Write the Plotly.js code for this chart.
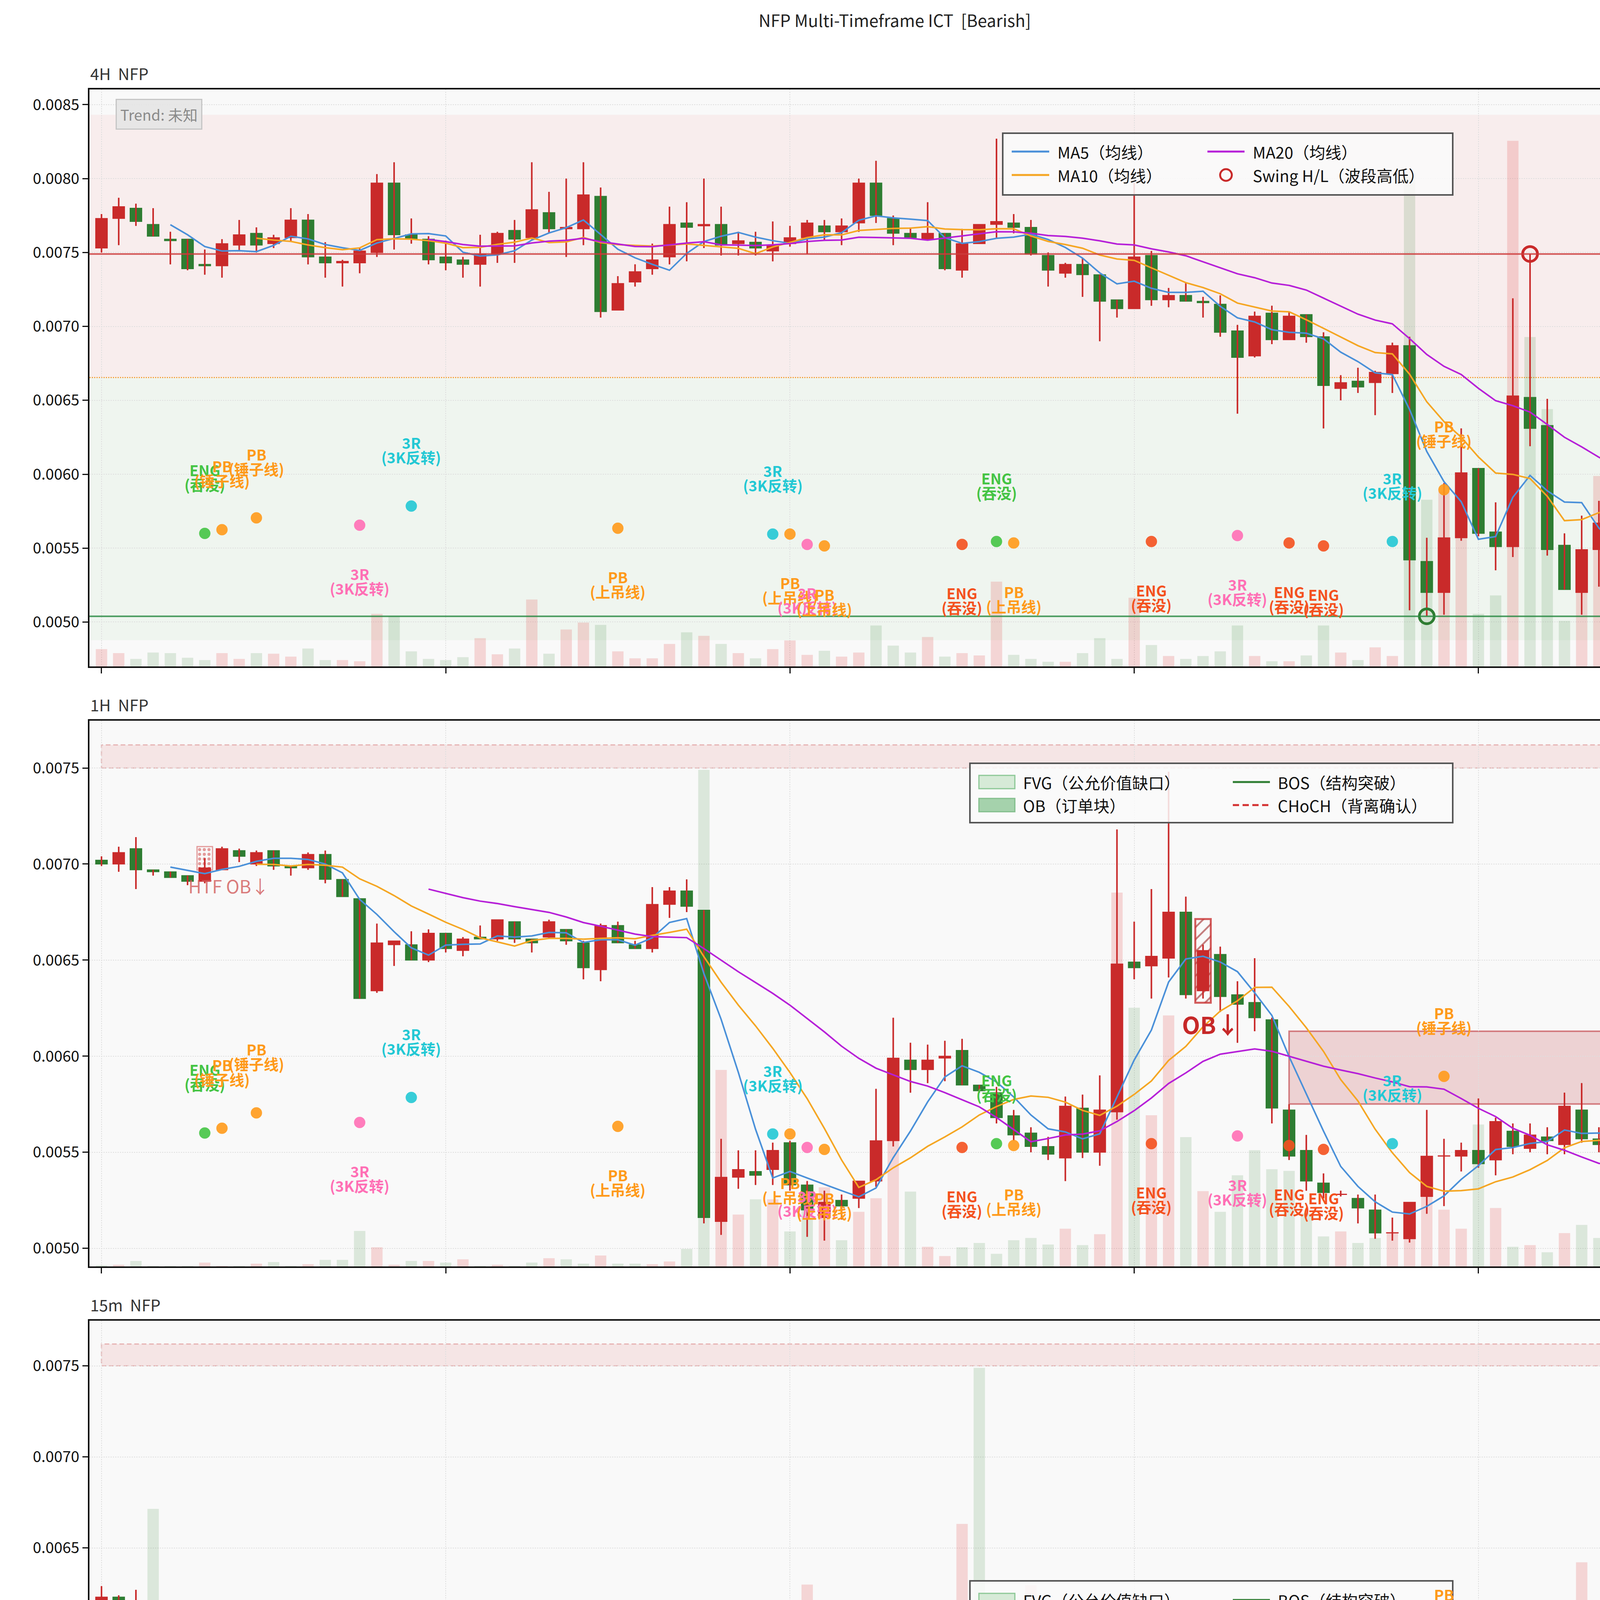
<!DOCTYPE html>
<html>
<head>
<meta charset="utf-8">
<script src="https://cdn.plot.ly/plotly-3.0.1.min.js"></script>
<style>html,body{margin:0;padding:0;background:#fff;}</style>
</head>
<body>
<div id="chart"></div>
<script>
// ---- data: [open, high, low, close] per bar ----
const ohlc4h = [
  [0.00753,0.00776,0.00750,0.00773],[0.00773,0.00787,0.00755,0.00781],[0.00780,0.00783,0.00768,0.00771],
  [0.00769,0.00780,0.00761,0.00761],[0.00759,0.00764,0.00742,0.00758],[0.00759,0.00759,0.00738,0.00739],
  [0.00742,0.00752,0.00735,0.00741],[0.00741,0.00759,0.00733,0.00756],[0.00755,0.00772,0.00751,0.00762],
  [0.00763,0.00767,0.00750,0.00755],[0.00756,0.00762,0.00753,0.00760],[0.00760,0.00780,0.00757,0.00772],
  [0.00772,0.00776,0.00742,0.00747],[0.00747,0.00757,0.00733,0.00743],[0.00743,0.00745,0.00727,0.00744],
  [0.00743,0.00753,0.00736,0.00751],[0.00750,0.00803,0.00747,0.00797],[0.00797,0.00811,0.00752,0.00762],
  [0.00762,0.00773,0.00756,0.00759],[0.00759,0.00761,0.00742,0.00745],[0.00747,0.00758,0.00738,0.00743],
  [0.00745,0.00747,0.00733,0.00742],[0.00742,0.00762,0.00727,0.00749],[0.00749,0.00764,0.00743,0.00763],
  [0.00765,0.00772,0.00743,0.00759],[0.00760,0.00811,0.00759,0.00779],[0.00777,0.00791,0.00763,0.00766],
  [0.00766,0.00800,0.00747,0.00767],[0.00766,0.00811,0.00755,0.00789],[0.00788,0.00794,0.00706,0.00710],
  [0.00711,0.00734,0.00711,0.00729],[0.00730,0.00742,0.00727,0.00737],[0.00739,0.00756,0.00735,0.00745],
  [0.00747,0.00781,0.00742,0.00769],[0.00770,0.00784,0.00744,0.00767],[0.00768,0.00800,0.00753,0.00769],
  [0.00769,0.00781,0.00748,0.00755],[0.00756,0.00764,0.00748,0.00758],[0.00757,0.00764,0.00748,0.00753],
  [0.00751,0.00771,0.00744,0.00755],[0.00756,0.00768,0.00754,0.00760],[0.00760,0.00772,0.00749,0.00770],
  [0.00768,0.00772,0.00758,0.00764],[0.00764,0.00773,0.00755,0.00768],[0.00770,0.00800,0.00764,0.00797],
  [0.00797,0.00812,0.00770,0.00775],[0.00773,0.00775,0.00755,0.00763],[0.00763,0.00767,0.00760,0.00760],
  [0.00759,0.00784,0.00759,0.00763],[0.00763,0.00763,0.00738,0.00739],[0.00738,0.00766,0.00733,0.00756],
  [0.00756,0.00769,0.00756,0.00769],[0.00769,0.00827,0.00760,0.00771],[0.00770,0.00776,0.00763,0.00767],
  [0.00767,0.00772,0.00748,0.00749],[0.00748,0.00750,0.00727,0.00738],[0.00736,0.00743,0.00733,0.00742],
  [0.00742,0.00746,0.00720,0.00735],[0.00735,0.00735,0.00690,0.00717],[0.00718,0.00718,0.00706,0.00712],
  [0.00712,0.00797,0.00712,0.00747],[0.00748,0.00751,0.00714,0.00718],[0.00718,0.00726,0.00713,0.00721],
  [0.00721,0.00730,0.00717,0.00717],[0.00717,0.00720,0.00706,0.00716],[0.00715,0.00721,0.00693,0.00696],
  [0.00697,0.00701,0.00641,0.00679],[0.00680,0.00710,0.00679,0.00707],[0.00709,0.00714,0.00688,0.00691],
  [0.00691,0.00710,0.00691,0.00707],[0.00708,0.00708,0.00689,0.00693],[0.00693,0.00696,0.00631,0.00660],
  [0.00658,0.00667,0.00650,0.00662],[0.00663,0.00672,0.00655,0.00659],[0.00662,0.00670,0.00640,0.00669],
  [0.00668,0.00689,0.00655,0.00687],[0.00687,0.00693,0.00508,0.00542],[0.00541,0.00557,0.00504,0.00520],
  [0.00520,0.00594,0.00505,0.00557],[0.00557,0.00631,0.00555,0.00601],[0.00604,0.00604,0.00558,0.00560],
  [0.00561,0.00581,0.00535,0.00551],[0.00551,0.00719,0.00544,0.00653],[0.00652,0.00749,0.00619,0.00631],
  [0.00633,0.00651,0.00545,0.00549],[0.00552,0.00560,0.00522,0.00522],[0.00520,0.00572,0.00505,0.00549],
  [0.00549,0.00582,0.00524,0.00567],[0.00562,0.00578,0.00553,0.00575],[0.00572,0.00594,0.00550,0.00559]
];
const ohlc1h = [
  [0.00702,0.00704,0.00699,0.00700],[0.00700,0.00709,0.00696,0.00706],[0.00708,0.00714,0.00687,0.00697],
  [0.00697,0.00697,0.00694,0.00696],[0.00696,0.00696,0.00693,0.00693],[0.00694,0.00694,0.00689,0.00691],
  [0.00691,0.00703,0.00690,0.00698],[0.00697,0.00709,0.00697,0.00708],[0.00707,0.00708,0.00701,0.00704],
  [0.00700,0.00707,0.00699,0.00706],[0.00707,0.00707,0.00697,0.00699],[0.00699,0.00699,0.00694,0.00698],
  [0.00698,0.00706,0.00697,0.00705],[0.00705,0.00707,0.00690,0.00692],[0.00692,0.00692,0.00683,0.00683],
  [0.00682,0.00682,0.00630,0.00630],[0.00634,0.00669,0.00633,0.00659],[0.00658,0.00660,0.00647,0.00660],
  [0.00658,0.00665,0.00650,0.00650],[0.00650,0.00666,0.00649,0.00664],[0.00664,0.00664,0.00654,0.00656],
  [0.00655,0.00662,0.00652,0.00661],[0.00662,0.00668,0.00661,0.00661],[0.00661,0.00671,0.00660,0.00671],
  [0.00670,0.00670,0.00659,0.00661],[0.00661,0.00661,0.00654,0.00659],[0.00662,0.00671,0.00661,0.00670],
  [0.00666,0.00666,0.00658,0.00660],[0.00659,0.00660,0.00640,0.00646],[0.00645,0.00669,0.00639,0.00668],
  [0.00668,0.00670,0.00659,0.00659],[0.00658,0.00660,0.00656,0.00656],[0.00656,0.00688,0.00654,0.00679],
  [0.00679,0.00688,0.00672,0.00686],[0.00686,0.00692,0.00675,0.00678],[0.00676,0.00676,0.00513,0.00516],
  [0.00514,0.00557,0.00507,0.00537],[0.00537,0.00551,0.00531,0.00541],[0.00540,0.00551,0.00533,0.00538],
  [0.00541,0.00555,0.00533,0.00551],[0.00555,0.00556,0.00530,0.00533],[0.00533,0.00535,0.00506,0.00520],
  [0.00516,0.00530,0.00504,0.00524],[0.00525,0.00528,0.00515,0.00522],[0.00526,0.00535,0.00521,0.00535],
  [0.00535,0.00583,0.00532,0.00556],[0.00556,0.00620,0.00553,0.00599],[0.00598,0.00607,0.00581,0.00593],
  [0.00593,0.00606,0.00586,0.00598],[0.00599,0.00608,0.00587,0.00600],[0.00603,0.00609,0.00585,0.00585],
  [0.00585,0.00585,0.00581,0.00582],[0.00581,0.00584,0.00565,0.00568],[0.00569,0.00572,0.00556,0.00559],
  [0.00560,0.00563,0.00550,0.00553],[0.00553,0.00558,0.00546,0.00549],[0.00547,0.00579,0.00535,0.00574],
  [0.00573,0.00580,0.00547,0.00550],[0.00550,0.00590,0.00543,0.00572],[0.00571,0.00718,0.00567,0.00648],
  [0.00649,0.00670,0.00640,0.00646],[0.00647,0.00687,0.00630,0.00652],[0.00651,0.00748,0.00641,0.00675],
  [0.00675,0.00683,0.00630,0.00632],[0.00634,0.00658,0.00630,0.00655],[0.00653,0.00657,0.00623,0.00631],
  [0.00632,0.00639,0.00607,0.00627],[0.00628,0.00651,0.00613,0.00620],[0.00619,0.00620,0.00565,0.00573],
  [0.00572,0.00575,0.00546,0.00548],[0.00551,0.00559,0.00530,0.00535],[0.00534,0.00539,0.00526,0.00529],
  [0.00528,0.00530,0.00527,0.005282],[0.00526,0.00528,0.00513,0.00521],[0.00520,0.00528,0.00505,0.00508],
  [0.00508,0.00516,0.00504,0.005082],[0.00505,0.00524,0.00503,0.00524],[0.00527,0.00572,0.00518,0.00548],
  [0.00548,0.00557,0.00522,0.005482],[0.00548,0.00555,0.00540,0.00551],[0.00551,0.00578,0.00542,0.00544],
  [0.00546,0.00568,0.00538,0.00566],[0.00561,0.00565,0.00549,0.00553],[0.00552,0.00565,0.00550,0.00559],
  [0.00558,0.00563,0.00549,0.00556],[0.00554,0.00581,0.00549,0.00574],[0.00572,0.00586,0.00555,0.00557],
  [0.00557,0.00563,0.00550,0.00554],[0.00556,0.00566,0.00549,0.00549],[0.00551,0.00594,0.00550,0.00558]
];
const ohlc15m = [
  [0.00618,0.00629,0.00613,0.00623],[0.00623,0.00624,0.00613,0.00620],[0.00619,0.00627,0.00615,0.00615],
  [0.00617,0.00617,0.00581,0.00582],[0.00582,0.00590,0.00572,0.00580],[0.00582,0.00582,0.00565,0.00573],
  [0.00571,0.00575,0.00563,0.00568],[0.00569,0.00574,0.00548,0.00551],[0.005515,0.00556,0.00544,0.00551],
  [0.00550,0.00556,0.00545,0.00548],[0.00551,0.00551,0.00521,0.00529],[0.00530,0.00559,0.00527,0.00549],
  [0.00549,0.00549,0.00537,0.00538],[0.00539,0.00541,0.00528,0.00535],[0.00534,0.00535,0.00529,0.00530],
  [0.00532,0.00534,0.00528,0.00533],[0.00531,0.00536,0.00522,0.00522],[0.00522,0.00530,0.00519,0.00529],
  [0.00528,0.00535,0.00517,0.00529],[0.00528,0.00529,0.00520,0.00526],[0.00524,0.00527,0.00521,0.00521],
  [0.00521,0.00529,0.00521,0.00528],[0.00527,0.00529,0.00524,0.00525],[0.00523,0.00525,0.00512,0.00519],
  [0.00519,0.00525,0.00519,0.00524],[0.00523,0.00524,0.00519,0.00522],[0.00521,0.00527,0.00521,0.00525],
  [0.00524,0.00528,0.00512,0.00515],[0.00514,0.00517,0.00508,0.00508],[0.00511,0.00515,0.00506,0.00508],
  [0.00508,0.00516,0.00506,0.00512],[0.00513,0.00516,0.00511,0.00511],[0.00511,0.00513,0.00504,0.00508],
  [0.00510,0.00512,0.00506,0.00508],[0.00505,0.00524,0.00503,0.00518],[0.00519,0.00521,0.00514,0.00515],
  [0.00517,0.00518,0.00507,0.00507],[0.00506,0.00524,0.00506,0.00523],[0.00523,0.00538,0.00522,0.00530],
  [0.00529,0.00530,0.00523,0.00526],[0.00527,0.00529,0.00523,0.00526],[0.00526,0.00572,0.00519,0.00549],
  [0.00549,0.00556,0.00540,0.00544],[0.00544,0.00552,0.00535,0.00539],[0.00537,0.00538,0.00529,0.00533],
  [0.00531,0.00549,0.00523,0.00549],[0.00549,0.00554,0.00545,0.00554],[0.00553,0.00553,0.00540,0.00547],
  [0.00543,0.00548,0.00543,0.00548],[0.00549,0.00551,0.00548,0.00551],[0.00551,0.00570,0.00546,0.00557],
  [0.00557,0.00586,0.00543,0.00554],[0.00552,0.00567,0.00547,0.00561],[0.00562,0.00565,0.00542,0.00544],
  [0.00546,0.00572,0.00536,0.00563],[0.00566,0.00571,0.00562,0.005662],[0.00566,0.00566,0.00551,0.00555],
  [0.00556,0.00571,0.00551,0.00566],[0.00560,0.00566,0.00551,0.00554],[0.00554,0.00556,0.00554,0.00556],
  [0.00554,0.00563,0.00553,0.00563],[0.00563,0.00565,0.00551,0.00557],[0.00552,0.00557,0.00551,0.00556],
  [0.00557,0.00563,0.00553,0.00554],[0.00552,0.00556,0.00550,0.00551],[0.00551,0.00562,0.00548,0.00558],
  [0.00556,0.00561,0.00553,0.00558],[0.00557,0.00562,0.00554,0.00555],[0.00555,0.00556,0.00548,0.00551],
  [0.00552,0.00556,0.00550,0.00555],[0.00553,0.00556,0.00548,0.00554],[0.00554,0.00557,0.00551,0.00556],
  [0.00554,0.00574,0.00554,0.00569],[0.00569,0.00581,0.00566,0.00576],[0.00571,0.00582,0.00570,0.00578],
  [0.00576,0.00580,0.00574,0.00577],[0.00579,0.00579,0.00557,0.00572],[0.00570,0.00572,0.00551,0.00555],
  [0.00555,0.00556,0.00551,0.005552],[0.00555,0.00561,0.00549,0.00551],[0.00555,0.00556,0.00549,0.00551],
  [0.00551,0.00552,0.00550,0.00552],[0.00554,0.00560,0.00554,0.00560],[0.00555,0.00560,0.00549,0.00556],
  [0.00559,0.00565,0.00558,0.00558],[0.00557,0.00557,0.00549,0.00549],[0.00550,0.00594,0.00549,0.00592],
  [0.00585,0.00589,0.00567,0.00567],[0.00566,0.00566,0.00552,0.00561],[0.00559,0.00562,0.00557,0.00560]
];
const ohlc3m = [
  [0.005532,0.005545,0.005523,0.005545],[0.00554,0.00557,0.00553,0.00557],[0.00554,0.00555,0.00554,0.00555],
  [0.00557,0.00560,0.00555,0.00556],[0.005545,0.005548,0.005543,0.005547],[0.00557,0.00557,0.00555,0.00556],
  [0.00556,0.00561,0.00555,0.00560],[0.00561,0.00566,0.00560,0.00564],[0.00563,0.00572,0.00562,0.00570],
  [0.00568,0.00581,0.00565,0.00571],[0.00569,0.00571,0.00567,0.005692],[0.00569,0.00572,0.00568,0.00572],
  [0.00572,0.00573,0.00570,0.005722],[0.00569,0.00574,0.00568,0.00574],[0.00572,0.00577,0.00572,0.00574],
  [0.00573,0.00574,0.00565,0.00566],[0.00567,0.00567,0.00564,0.00564],[0.00567,0.00568,0.00565,0.00565],
  [0.00568,0.00580,0.00568,0.00579],[0.00579,0.00585,0.00579,0.00583],[0.00582,0.00583,0.00575,0.00577],
  [0.00577,0.00580,0.00576,0.00579],[0.00578,0.00580,0.00578,0.00579],[0.00579,0.00579,0.00578,0.005792],
  [0.00580,0.00580,0.00574,0.00579],[0.00577,0.00579,0.00568,0.00568],[0.00566,0.00566,0.00561,0.00561],
  [0.00562,0.00567,0.00562,0.00567],[0.00567,0.00573,0.00565,0.00572],[0.00570,0.00570,0.00564,0.00567],
  [0.00562,0.00568,0.00561,0.00565],[0.00564,0.00564,0.00562,0.00562],[0.00564,0.00564,0.00557,0.00559],
  [0.00559,0.00559,0.00552,0.00557],[0.00557,0.00557,0.00554,0.00556],[0.00558,0.00558,0.00552,0.00556],
  [0.00556,0.00557,0.00554,0.00554],[0.00557,0.00558,0.00555,0.00555],[0.00556,0.00557,0.00555,0.00557],
  [0.00556,0.00560,0.00555,0.00559],[0.00560,0.00561,0.00558,0.00559],[0.00560,0.00560,0.00551,0.00552],
  [0.00553,0.00553,0.00551,0.00551],[0.00551,0.00554,0.00550,0.00552],[0.00555,0.00556,0.00553,0.00553],
  [0.00554,0.00557,0.00554,0.00556],[0.00555,0.00556,0.00552,0.00554],[0.00555,0.00557,0.00554,0.00556],
  [0.00555,0.00556,0.00551,0.00553],[0.00552,0.00554,0.00551,0.00553],[0.00555,0.00555,0.00552,0.00553],
  [0.00553,0.00553,0.00550,0.00551],[0.00551,0.00555,0.00550,0.00553],[0.00555,0.00556,0.00553,0.005552],
  [0.00555,0.00557,0.00555,0.00557],[0.00557,0.00559,0.00557,0.00559],[0.00559,0.00562,0.00558,0.00561],
  [0.00558,0.00561,0.00558,0.00560],[0.00560,0.00561,0.00559,0.005602],[0.00561,0.00561,0.00555,0.00559],
  [0.00561,0.00561,0.00559,0.00560],[0.00560,0.00561,0.00555,0.00555],[0.00555,0.00556,0.00551,0.00553],
  [0.00554,0.00560,0.00553,0.00560],[0.00560,0.00565,0.00559,0.00562],[0.00562,0.00563,0.00561,0.005622],
  [0.00562,0.00562,0.00558,0.00559],[0.00559,0.00559,0.00556,0.00557],[0.00558,0.00559,0.00556,0.005582],
  [0.00558,0.00558,0.00554,0.00554],[0.00552,0.00554,0.00550,0.00554],[0.00554,0.00554,0.00551,0.00551],
  [0.00552,0.00552,0.00550,0.005522],[0.00551,0.00551,0.00550,0.00550],[0.00551,0.00552,0.00550,0.005512],
  [0.00551,0.00554,0.00550,0.00554],[0.00555,0.00558,0.00552,0.00553],[0.00554,0.00596,0.00554,0.00595],
  [0.00584,0.00590,0.00568,0.00588],[0.00588,0.00590,0.00578,0.00581],[0.00580,0.00582,0.00576,0.00576],
  [0.00575,0.00575,0.00566,0.00569],[0.00569,0.00569,0.00565,0.00567],[0.00567,0.00567,0.00561,0.00565],
  [0.00566,0.00566,0.00560,0.00563],[0.00561,0.00562,0.00558,0.00559],[0.00559,0.00560,0.00553,0.00553],
  [0.00554,0.00558,0.00552,0.00557],[0.00559,0.00561,0.00558,0.00560],[0.00560,0.00560,0.00557,0.00558]
];

// volume, as read (height in % of its panel)
const vol4h = [3.0,2.3,1.3,2.4,2.3,1.5,1.1,2.3,1.3,2.3, 2.2,1.7,3.1,1.1,1.1,0.9,9.1,8.7,2.6,1.3,
  1.1,1.6,4.9,2.1,3.1,11.6,2.2,6.4,7.6,7.2, 2.6,1.4,1.4,3.9,5.9,5.3,3.9,2.3,1.4,3.0,
  4.5,2.0,2.7,1.7,2.4,7.1,3.6,2.4,5.1,1.7, 2.3,1.9,14.7,2.0,1.3,0.8,0.8,2.3,4.9,1.3,
  11.9,3.7,1.8,1.3,1.8,2.6,7.1,1.8,0.9,0.9, 1.9,7.1,2.4,1.1,3.3,1.8,84.9,28.9,30.3,28.7,
  9.1,12.3,91.1,57.1,44.6,7.9,12.9,33.0,10.0,17.2];
const vol1h = [0.2,0.3,1.0,0.1,0.1,0.1,0.7,0.1,0.1,0.5, 0.8,0.1,0.4,1.2,1.2,6.5,3.5,0.3,1.0,1.0,
  0.7,1.3,0.1,0.3,0.1,0.7,1.5,1.3,0.5,2.0, 0.5,0.5,0.4,0.9,3.2,91.0,36.0,9.5,12.3,12.3,
  6.4,11.4,14.5,4.8,10.0,12.5,23.0,13.7,3.6,1.9, 3.5,4.3,2.3,4.8,5.2,4.0,6.9,3.9,5.9,68.5,
  47.4,27.7,46.0,23.7,13.8,10.0,16.7,21.3,17.8,17.5, 9.7,5.5,6.4,4.3,5.2,6.2,9.5,13.8,10.4,6.9,
  26.0,10.7,3.6,3.9,2.6,6.1,7.6,5.2,2.9,11.9];
const vol15m = [19.4,13.6,12.7,63.7,39.3,15.5,25.5,35.7,34.4,23.4, 44.9,26.2,6.4,18.5,9.3,2.5,17.7,15.3,17.0,13.9,
  15.3,8.5,16.3,8.8,3.0,4.7,4.4,16.8,12.2,12.5, 20.9,10.6,8.8,8.8,8.8,4.5,13.8,27.4,30.5,1.8,
  1.8,49.1,16.0,14.8,10.5,35.9,34.0,14.9,3.0,0.4, 60.8,90.9,22.0,17.9,49.0,14.8,6.9,9.5,3.3,5.5,
  3.9,9.5,6.3,4.4,7.0,11.2,4.9,2.3,9.1,3.5, 8.1,4.4,4.5,24.8,14.0,9.5,12.0,21.1,14.9,13.9,
  7.8,2.9,2.0,11.3,3.5,5.0,53.4,24.8,10.4,15.3];
const vol3m = [0.5,1.2,1.5,5.9,0.2,1.0,1.3,1.7,9.3,55.2, 10.7,9.9,6.3,7.3,14.5,6.3,4.4,1.2,3.5,11.8,
  5.5,3.9,4.3,1.7,13.3,3.1,7.5,9.1,2.5,2.3, 7.5,5.9,12.1,38.0,17.8,13.2,1.0,4.4,7.9,2.0,
  10.7,7.9,11.6,13.4,7.3,6.9,1.5,0.5,7.5,0.8, 0.9,1.0,1.9,1.0,0.5,0.9,4.7,1.9,0.5,14.0,
  6.1,3.3,8.3,4.3,7.1,0.5,2.3,0.2,0.5,3.9, 1.0,1.0,0.5,0.9,1.0,1.1,5.5,90.9,62.2,21.2,
  4.4,19.1,14.7,24.3,3.0,1.1,15.4,2.2,1.5,0.5];

// candle patterns (same list on every timeframe)
const patBar   = [6, 7, 9, 15, 18, 30, 39, 40, 41, 42, 50, 52, 53, 61, 66, 69, 71, 75, 78, 89];
const patPrice = [0.0056, 0.005625, 0.005705, 0.005655, 0.005785, 0.005635, 0.005595, 0.005595, 0.005525, 0.005515,
                  0.005525, 0.005545, 0.005535, 0.005545, 0.005585, 0.005535, 0.005515, 0.005545, 0.005895, 0.005585];
const patCode  = ['ENG','PB','PB','3R','3R','PB','3R','PB','3R','PB','ENG','ENG','PB','ENG','3R','ENG','ENG','3R','PB','ENG'];
const patDesc  = ['吞没','锤子线','锤子线','3K反转','3K反转','上吊线','3K反转','上吊线','3K反转','上吊线',
                  '吞没','吞没','上吊线','吞没','3K反转','吞没','吞没','3K反转','锤子线','吞没'];
const patDir   = [1, 1, 1, -1, 1, -1, 1, -1, -1, -1, -1, 1, -1, -1, -1, -1, -1, 1, 1, -1];
const pat15mBars = [6, 7, 9, 15, 18, 30, 39, 40, 52, 61, 66, 75, 78, 89];
const pat3mBars  = [7, 9, 15, 18, 30, 78];

// levels and zones
const premiumZone = [0.006654, 0.008432];
const discountZone = [0.004877, 0.006654];
const swingHighLevel = 0.00749, swingLowLevel = 0.005039;
const swingHighBar = 83, swingLowBar = 77;
const htfZone = [0.0075, 0.00762], htfZoneBars = [0, 89.5];
const htfObBar = 6, htfOb = [0.006969, 0.007091];
const ob1hBar = 64, ob1h = [0.006278, 0.006714];
const fvg1hBars = [69, 89.5], fvg1h = [0.005751, 0.00613];
const ob15mBar = 86, ob15m = [0.005487, 0.005947];
const invalid15mBar = 87, invalid15mPrice = 0.005855;
const eqhLevel = 0.005612, eqlLevel = 0.005583;
const entryBar = 77, entryPrice = 0.00594;
const dispBar = 84, dispPrice = 0.00559;

const timeLabels = ['06-28 11:18','06-28 11:51','06-28 12:24','06-28 12:57','06-28 13:30',
                    '06-28 14:03','06-28 14:36','06-28 15:09','06-28 15:42'];
const timeBars = [0, 11, 22, 33, 44, 55, 66, 77, 88];
const upperTickBars = [0, 20, 40, 60, 80];

// ---- drawing ----
const W = 4264, H = 6370;
const FONT = '"Noto Sans CJK SC", "Noto Sans", sans-serif';
const RED = '#c92a2a', GREEN = '#2e7d32';
const VOL_UP = 'rgba(225,70,70,0.2)', VOL_DN = 'rgba(46,125,50,0.15)';
const MA_COLORS = {5: '#4a90d9', 10: '#f5a623', 20: '#b620d8'};
const PAT_COLORS = {'ENG1': '#44c444', 'ENG-1': '#f4511e', 'PB1': '#ff9a1a', 'PB-1': '#ff9a1a',
                    '3R1': '#22c8d4', '3R-1': '#ff6fb5'};
const px = v => v / W;
const py = v => 1 - v / H;
const PLOT_X = [229, 4213];
const PANEL_Y = [[229, 1706], [1845, 3242], [3381, 4708], [4844, 6099]];
const X_RANGE = [-0.7, 89.72];

const bars = ohlc4h.map((_, i) => i);

function sma(arr, n) {
  return arr.map((_, i) => i < n - 1 ? null : arr.slice(i - n + 1, i + 1).reduce((a, b) => a + b, 0) / n);
}

const frames = [
  {label: '4H', ohlc: ohlc4h, vol: vol4h, yRange: [0.0047, 0.008603], tick0: 0.005, dtick: 0.0005, fmt: '.4f', pats: patBar},
  {label: '1H', ohlc: ohlc1h, vol: vol1h, yRange: [0.004906, 0.007746], tick0: 0.005, dtick: 0.0005, fmt: '.4f', pats: patBar},
  {label: '15m', ohlc: ohlc15m, vol: vol15m, yRange: [0.004901, 0.007748], tick0: 0.005, dtick: 0.0005, fmt: '.4f', pats: pat15mBars},
  {label: '3m', ohlc: ohlc3m, vol: vol3m, yRange: [0.005495, 0.007725], tick0: 0.0055, dtick: 0.00025, fmt: '.5f', pats: pat3mBars}
];

const traces = [];
const shapes = [];
const annotations = [];
const layout = {
  width: W, height: H, autosize: false,
  margin: {l: 0, r: 0, t: 0, b: 0, pad: 0},
  paper_bgcolor: '#ffffff', plot_bgcolor: '#f9f9f9',
  font: {family: FONT, size: 38, color: '#111'},
  showlegend: false, barmode: 'overlay', boxgap: 0.32, boxgroupgap: 0,
  hovermode: false
};

const axisLine = {showline: true, mirror: true, linecolor: '#111', linewidth: 4,
  ticks: 'outside', ticklen: 14, tickwidth: 3, tickcolor: '#111',
  showgrid: true, gridcolor: '#dedede', griddash: 'dot', gridwidth: 2, zeroline: false, fixedrange: true};

frames.forEach((f, p) => {
  const xa = p === 0 ? 'x' : 'x' + (p + 1);
  const yv = p === 0 ? 'y' : 'y' + (2 * p + 1);
  const yp = 'y' + (2 * p + 2);
  f.xa = xa; f.yp = yp;
  const o = f.ohlc.map(r => r[0]), h = f.ohlc.map(r => r[1]), l = f.ohlc.map(r => r[2]), c = f.ohlc.map(r => r[3]);
  const up = c.map((v, i) => v > o[i]);

  const top = PANEL_Y[p][0], bottom = PANEL_Y[p][1];
  layout[p === 0 ? 'xaxis' : 'xaxis' + (p + 1)] = Object.assign({}, axisLine, {
    domain: [px(PLOT_X[0]), px(PLOT_X[1])], range: X_RANGE, anchor: yv,
    tickmode: 'array', tickvals: p < 3 ? upperTickBars : timeBars,
    ticktext: p < 3 ? upperTickBars.map(() => '') : timeLabels,
    showticklabels: p === 3, tickangle: -30, tickfont: {size: 40, color: '#111'},
    rangeslider: {visible: false}
  });
  layout[p === 0 ? 'yaxis' : 'yaxis' + (2 * p + 1)] = {
    domain: [py(bottom), py(top)], range: [0, 100], visible: false, fixedrange: true
  };
  layout['yaxis' + (2 * p + 2)] = Object.assign({}, axisLine, {
    overlaying: yv, side: 'left', anchor: xa, range: f.yRange,
    tick0: f.tick0, dtick: f.dtick, tickformat: f.fmt, tickfont: {size: 39, color: '#111'}
  });

  // volume
  traces.push({type: 'bar', x: bars, y: f.vol, xaxis: xa, yaxis: yv, width: 0.66,
    marker: {color: up.map(u => u ? VOL_UP : VOL_DN), line: {width: 0}}, hoverinfo: 'skip'});
  // candles
  traces.push({type: 'candlestick', x: bars, open: o, high: h, low: l, close: c, xaxis: xa, yaxis: yp,
    whiskerwidth: 0, hoverinfo: 'skip',
    increasing: {line: {color: RED, width: 2}, fillcolor: RED},
    decreasing: {line: {color: GREEN, width: 2}, fillcolor: GREEN}});
  // wicks drawn over bodies
  const wx = [], wy = [];
  bars.forEach(i => { wx.push(i, i, null); wy.push(l[i], h[i], null); });
  traces.push({type: 'scatter', mode: 'lines', x: wx, y: wy, xaxis: xa, yaxis: yp,
    line: {color: RED, width: 4}, hoverinfo: 'skip'});
  // moving averages
  [5, 10, 20].forEach(n => traces.push({type: 'scatter', mode: 'lines', x: bars, y: sma(c, n),
    xaxis: xa, yaxis: yp, line: {color: MA_COLORS[n], width: 4}, hoverinfo: 'skip'}));

  // panel title
  annotations.push({xref: 'paper', yref: 'paper', x: px(PLOT_X[0]), y: py(top), xanchor: 'left', yanchor: 'bottom',
    yshift: 10, showarrow: false, text: f.label + '\u00a0 NFP', font: {size: 41, color: '#333'}});
});

// candle pattern dots and labels
function drawPatterns(f) {
  const ks = patBar.map((b, k) => k).filter(k => f.pats.includes(patBar[k]));
  traces.push({type: 'scatter', mode: 'markers', x: ks.map(k => patBar[k]), y: ks.map(k => patPrice[k]),
    xaxis: f.xa, yaxis: f.yp, hoverinfo: 'skip',
    marker: {size: 29, opacity: 0.9, color: ks.map(k => PAT_COLORS[patCode[k] + patDir[k]]), line: {width: 0}}});
  ks.forEach(k => {
    const color = PAT_COLORS[patCode[k] + patDir[k]];
    const s = patDir[k];
    const lines = [patCode[k], '(' + patDesc[k] + ')'];
    const shifts = s > 0 ? [163, 126] : [-124, -161];
    lines.forEach((t, j) => annotations.push({xref: f.xa, yref: f.yp, x: patBar[k], y: patPrice[k],
      yshift: shifts[j], xanchor: 'center', yanchor: 'middle', showarrow: false, text: '<b>' + t + '</b>',
      font: {size: 38, color: color}}));
  });
}
frames.forEach(drawPatterns);

// ---- 4H extras ----
const f4 = frames[0], f1 = frames[1], f15 = frames[2], f3 = frames[3];
shapes.push({type: 'rect', xref: 'x domain', yref: f4.yp, x0: 0, x1: 1, y0: premiumZone[0], y1: premiumZone[1],
  fillcolor: 'rgb(248,237,237)', line: {width: 0}, layer: 'below'});
shapes.push({type: 'rect', xref: 'x domain', yref: f4.yp, x0: 0, x1: 1, y0: discountZone[0], y1: discountZone[1],
  fillcolor: 'rgb(239,245,239)', line: {width: 0}, layer: 'below'});
shapes.push({type: 'line', xref: 'x domain', yref: f4.yp, x0: 0, x1: 1, y0: premiumZone[0], y1: premiumZone[0],
  line: {color: '#f5a03c', width: 3, dash: 'dot'}, layer: 'below'});
shapes.push({type: 'line', xref: 'x domain', yref: f4.yp, x0: 0, x1: 1, y0: swingHighLevel, y1: swingHighLevel,
  line: {color: 'rgba(205,60,60,0.85)', width: 4}});
shapes.push({type: 'line', xref: 'x domain', yref: f4.yp, x0: 0, x1: 1, y0: swingLowLevel, y1: swingLowLevel,
  line: {color: 'rgba(46,140,70,0.85)', width: 4}});
traces.push({type: 'scatter', mode: 'markers', x: [swingHighBar, swingLowBar], y: [swingHighLevel, swingLowLevel],
  xaxis: f4.xa, yaxis: f4.yp, hoverinfo: 'skip',
  marker: {symbol: 'circle-open', size: 38, color: [RED, GREEN], line: {width: 7}}});
annotations.push({xref: 'paper', yref: 'paper', x: px(296), y: py(292), xanchor: 'left', yanchor: 'middle',
  showarrow: false, text: 'Trend: 未知', font: {size: 38, color: '#8a8a8a'},
  bgcolor: 'rgba(228,228,228,0.9)', bordercolor: '#c6c6c6', borderwidth: 3, borderpad: 9});

// ---- HTF zone on lower frames ----
[f1, f15, f3].forEach(f => shapes.push({type: 'rect', xref: f.xa, yref: f.yp,
  x0: htfZoneBars[0], x1: htfZoneBars[1], y0: htfZone[0], y1: htfZone[1],
  fillcolor: 'rgb(245,229,229)', line: {color: '#e6b1b1', width: 3, dash: '12px,7px'}, layer: 'below'}));

// ---- 1H extras ----
shapes.push({type: 'rect', xref: f1.xa, yref: f1.yp, x0: fvg1hBars[0], x1: fvg1hBars[1], y0: fvg1h[0], y1: fvg1h[1],
  fillcolor: 'rgba(205,95,100,0.25)', line: {color: 'rgba(200,90,95,0.75)', width: 4}, layer: 'below'});
traces.push({type: 'bar', x: [htfObBar], base: [htfOb[0]], y: [htfOb[1] - htfOb[0]], width: 0.9,
  xaxis: f1.xa, yaxis: f1.yp, hoverinfo: 'skip',
  marker: {color: 'rgba(240,185,185,0.35)', line: {color: '#e39b9b', width: 3},
    pattern: {shape: '.', fgcolor: '#e39b9b', size: 12, solidity: 0.35}}});
traces.push({type: 'bar', x: [ob1hBar], base: [ob1h[0]], y: [ob1h[1] - ob1h[0]], width: 0.9,
  xaxis: f1.xa, yaxis: f1.yp, hoverinfo: 'skip',
  marker: {color: 'rgba(205,60,60,0.45)', line: {color: 'rgba(200,50,50,0.8)', width: 5},
    pattern: {shape: '/', fgcolor: 'rgba(150,20,20,0.55)', size: 22, solidity: 0.2}}});
annotations.push({xref: f1.xa, yref: f1.yp, x: htfObBar + 1.4, y: htfOb[0], yshift: -40, xanchor: 'center', yanchor: 'middle',
  showarrow: false, text: 'HTF OB↓', font: {size: 46, color: 'rgba(210,90,90,0.8)'}});
annotations.push({xref: f1.xa, yref: f1.yp, x: ob1hBar + 0.45, y: ob1h[0], yshift: -8, xanchor: 'center', yanchor: 'top',
  showarrow: false, text: '<b>OB↓</b>', font: {size: 60, color: '#c62828'}});

// ---- 15m extras ----
traces.push({type: 'bar', x: [ob15mBar], base: [ob15m[0]], y: [ob15m[1] - ob15m[0]], width: 0.9,
  xaxis: f15.xa, yaxis: f15.yp, hoverinfo: 'skip',
  marker: {color: 'rgba(205,60,60,0.5)', line: {color: 'rgba(200,50,50,0.75)', width: 5},
    pattern: {shape: '/', fgcolor: 'rgba(150,20,20,0.5)', size: 22, solidity: 0.2}}});
traces.push({type: 'scatter', mode: 'markers', x: [invalid15mBar], y: [invalid15mPrice], xaxis: f15.xa, yaxis: f15.yp,
  hoverinfo: 'skip', marker: {symbol: 'x-thin', size: 62, color: '#f4511e', line: {color: '#f4511e', width: 13}}});
annotations.push({xref: f15.xa, yref: f15.yp, x: ob15mBar + 0.85, y: ob15m[0], yshift: -6, xanchor: 'center', yanchor: 'top',
  showarrow: false, text: '<b>OB ↓</b>', font: {size: 60, color: '#c03030'}});

// ---- 3m extras ----
shapes.push({type: 'line', xref: 'x4 domain', yref: f3.yp, x0: 0, x1: 1, y0: eqhLevel, y1: eqhLevel,
  line: {color: 'rgba(210,70,70,0.85)', width: 5, dash: '27px,14px'}});
shapes.push({type: 'line', xref: 'x4 domain', yref: f3.yp, x0: 0, x1: 1, y0: eqlLevel, y1: eqlLevel,
  line: {color: 'rgba(46,158,68,0.9)', width: 5, dash: '27px,14px'}});
traces.push({type: 'scatter', mode: 'markers', x: [entryBar], y: [entryPrice], xaxis: f3.xa, yaxis: f3.yp,
  hoverinfo: 'skip', marker: {symbol: 'circle-open', size: 40, color: RED, line: {width: 7}}});
traces.push({type: 'scatter', mode: 'markers', x: [dispBar], y: [dispPrice], xaxis: f3.xa, yaxis: f3.yp,
  hoverinfo: 'skip', marker: {symbol: 'triangle-down', size: 42, color: 'rgba(245,160,30,0.9)', line: {color: '#e07b00', width: 2}}});
annotations.push({xref: f3.xa, yref: f3.yp, x: entryBar, y: entryPrice, yshift: 46, xanchor: 'center', yanchor: 'middle',
  showarrow: false, text: 'Entry Ref', font: {size: 42, color: 'rgba(198,40,40,0.9)'}});
annotations.push({xref: f3.xa, yref: f3.yp, x: 88, y: eqhLevel, yshift: 40, xanchor: 'center', yanchor: 'middle',
  showarrow: false, text: 'EQH', font: {size: 42, color: 'rgba(198,40,40,0.9)'}});
annotations.push({xref: f3.xa, yref: f3.yp, x: 88.1, y: eqlLevel, yshift: -34, xanchor: 'center', yanchor: 'middle',
  showarrow: false, text: 'EQL', font: {size: 42, color: '#2e7d32'}});

// ---- legends (two-column boxes) ----
function legendBox(box, symX, textX, rowY, items) {
  shapes.push({type: 'rect', xref: 'paper', yref: 'paper', x0: px(box[0]), x1: px(box[1]), y0: py(box[3]), y1: py(box[2]),
    fillcolor: 'rgba(250,250,250,0.85)', line: {color: '#555', width: 4}, layer: 'above'});
  items.forEach(it => {
    const [x0, x1] = symX[it.col], y = rowY[it.row], xm = (x0 + x1) / 2;
    if (it.kind === 'line') {
      shapes.push({type: 'line', xref: 'paper', yref: 'paper', x0: px(x0), x1: px(x1), y0: py(y), y1: py(y),
        line: {color: it.color, width: 5, dash: it.dash || 'solid'}, layer: 'above'});
    } else if (it.kind === 'patch') {
      shapes.push({type: 'rect', xref: 'paper', yref: 'paper', x0: px(x0), x1: px(x1), y0: py(y + 17), y1: py(y - 17),
        fillcolor: it.color, line: {color: it.edge, width: 3}, layer: 'above'});
    } else if (it.kind === 'circle') {
      shapes.push({type: 'circle', xref: 'paper', yref: 'paper', x0: px(xm - 15), x1: px(xm + 15), y0: py(y + 15), y1: py(y - 15),
        line: {color: it.color, width: 5}, layer: 'above'});
    } else if (it.kind === 'tri') {
      shapes.push({type: 'path', xref: 'paper', yref: 'paper', layer: 'above',
        path: `M${px(xm - 13)},${py(y + 12)} L${px(xm + 13)},${py(y + 12)} L${px(xm)},${py(y - 13)} Z`,
        fillcolor: '#ff9800', line: {color: '#111', width: 3}});
    }
    annotations.push({xref: 'paper', yref: 'paper', x: px(textX[it.col]), y: py(y), xanchor: 'left', yanchor: 'middle',
      showarrow: false, text: it.text, font: {size: 41, color: '#111'}});
  });
}
legendBox([2567, 3719, 341, 499], [[2590, 2686], [3091, 3186]], [2705, 3205], [388, 448], [
  {col: 0, row: 0, kind: 'line', color: MA_COLORS[5], text: 'MA5（均线）'},
  {col: 0, row: 1, kind: 'line', color: MA_COLORS[10], text: 'MA10（均线）'},
  {col: 1, row: 0, kind: 'line', color: MA_COLORS[20], text: 'MA20（均线）'},
  {col: 1, row: 1, kind: 'circle', color: RED, text: 'Swing H/L（波段高低）'}
]);
const ictItems = [
  {col: 0, row: 0, kind: 'patch', color: 'rgb(214,234,215)', edge: 'rgb(140,200,150)', text: 'FVG（公允价值缺口）'},
  {col: 0, row: 1, kind: 'patch', color: 'rgb(165,210,172)', edge: 'rgb(130,190,140)', text: 'OB（订单块）'},
  {col: 1, row: 0, kind: 'line', color: '#2e7d32', text: 'BOS（结构突破）'},
  {col: 1, row: 1, kind: 'line', color: '#d32f2f', dash: '16px,9px', text: 'CHoCH（背离确认）'}
];
legendBox([2483, 3719, 1954, 2106], [[2506, 2598], [3156, 3251]], [2617, 3269], [2002, 2061], ictItems);
legendBox([2483, 3719, 4047, 4198], [[2506, 2598], [3156, 3251]], [2617, 3269], [4096, 4153], ictItems);
legendBox([2516, 3719, 5829, 5986], [[2537, 2631], [3140, 3172]], [2650, 3220], [5876, 5939], [
  {col: 0, row: 0, kind: 'line', color: MA_COLORS[20], dash: '14px,8px', text: 'EQH（等值高点）'},
  {col: 0, row: 1, kind: 'line', color: '#2e9e44', dash: '14px,8px', text: 'EQL（等值低点）'},
  {col: 1, row: 0, kind: 'tri', text: 'Displacement（位移）'}
]);

// entry-bar wicks and the entry marker sit above the 3m legend box
[entryBar, entryBar + 1].forEach(b => shapes.push({type: 'line', xref: f3.xa, yref: f3.yp,
  x0: b, x1: b, y0: ohlc3m[b][2], y1: ohlc3m[b][1], line: {color: RED, width: 4}, layer: 'above'}));
shapes.push({type: 'circle', xref: f3.xa, yref: f3.yp, xsizemode: 'pixel', ysizemode: 'pixel',
  xanchor: entryBar, yanchor: entryPrice, x0: -20, x1: 20, y0: -20, y1: 20,
  line: {color: RED, width: 7}, layer: 'above'});

// ---- titles ----
annotations.push({xref: 'paper', yref: 'paper', x: px(2290), y: py(50), xanchor: 'center', yanchor: 'middle',
  showarrow: false, text: 'NFP Multi-Timeframe ICT\u00a0 [Bearish]', font: {size: 43, color: '#222'}});
annotations.push({xref: 'paper', yref: 'paper', x: px(2220), y: py(6322), xanchor: 'center', yanchor: 'middle',
  showarrow: false, text: 'Date', font: {size: 36, color: '#444'}});
annotations.push({xref: 'paper', yref: 'paper', x: px(4258), y: py(6344), xanchor: 'right', yanchor: 'middle',
  showarrow: false, text: '@凌晨三点还在打盘', font: {size: 28, color: '#c4c4c4'}});

layout.shapes = shapes;
layout.annotations = annotations;

Plotly.newPlot('chart', traces, layout, {displayModeBar: false, staticPlot: true});
</script>
</body>
</html>
